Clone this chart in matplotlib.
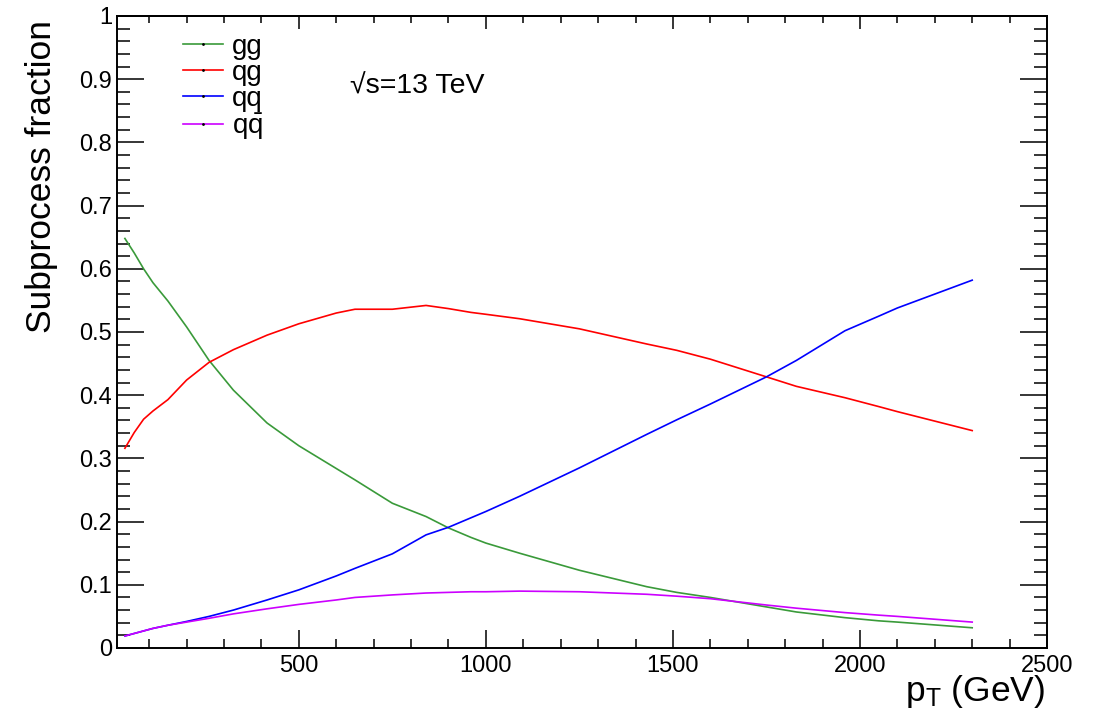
import matplotlib
matplotlib.use("Agg")
import matplotlib.pyplot as plt
from matplotlib.ticker import MultipleLocator, FuncFormatter
from matplotlib.lines import Line2D

plt.rcParams['font.family'] = ['Liberation Sans', 'DejaVu Sans']
plt.rcParams['mathtext.fontset'] = 'custom'
plt.rcParams['mathtext.rm'] = 'Liberation Sans'
plt.rcParams['mathtext.it'] = 'Liberation Sans:italic'

# pT grid (GeV) and subprocess fractions
pt = [35, 60, 85, 110, 150, 200, 260, 325, 415, 500, 600, 650, 750, 840, 900,
      960, 1000, 1090, 1250, 1430, 1510, 1600, 1750, 1830, 1960, 2050, 2100, 2300]
gg = [0.648, 0.625, 0.600, 0.578, 0.549, 0.508, 0.455, 0.408, 0.356, 0.320,
      0.284, 0.266, 0.229, 0.208, 0.190, 0.175, 0.166, 0.150, 0.123, 0.097,
      0.088, 0.080, 0.065, 0.057, 0.048, 0.043, 0.041, 0.032]
qg = [0.316, 0.341, 0.362, 0.375, 0.393, 0.424, 0.452, 0.472, 0.495, 0.513,
      0.530, 0.536, 0.536, 0.542, 0.537, 0.531, 0.528, 0.521, 0.505, 0.481,
      0.471, 0.457, 0.429, 0.414, 0.396, 0.382, 0.374, 0.344]
qq = [0.019, 0.023, 0.027, 0.031, 0.036, 0.042, 0.050, 0.060, 0.076, 0.092,
      0.114, 0.126, 0.149, 0.179, 0.191, 0.206, 0.216, 0.240, 0.285, 0.338,
      0.361, 0.386, 0.429, 0.455, 0.502, 0.525, 0.538, 0.582]
qqbar = [0.019, 0.023, 0.027, 0.031, 0.036, 0.041, 0.047, 0.054, 0.062, 0.069,
         0.076, 0.080, 0.084, 0.087, 0.088, 0.089, 0.089, 0.090, 0.089, 0.085,
         0.082, 0.078, 0.068, 0.063, 0.056, 0.052, 0.050, 0.041]

labels = ['gg', 'qg', 'qq', r'q$\bar{\mathrm{q}}$']
colors = ['#3a9a3a', '#ff0000', '#0000ff', '#cc00ff']

fig = plt.figure(figsize=(10.99, 7.2), dpi=100)
ax = fig.add_axes([0.1065, 0.1, 0.8462, 0.8778])

for ys, c in zip([gg, qg, qq, qqbar], colors):
    ax.plot(pt, ys, color=c, lw=1.2)

ax.set_xlim(14, 2500)
ax.set_ylim(0, 1)

ax.xaxis.set_major_locator(MultipleLocator(500))
ax.xaxis.set_minor_locator(MultipleLocator(100))
ax.yaxis.set_major_locator(MultipleLocator(0.1))
ax.yaxis.set_minor_locator(MultipleLocator(0.02))
ax.yaxis.set_major_formatter(FuncFormatter(lambda v, p: f'{v:g}'))

ax.tick_params(axis='y', which='both', direction='in', left=True, right=True,
               labelsize=17, pad=3.6, width=1.1)
ax.tick_params(axis='y', which='major', length=19.4)
ax.tick_params(axis='y', which='minor', length=9.7)
ax.tick_params(axis='x', which='both', direction='in', top=False, bottom=True,
               labelsize=17, pad=5, width=1.1)
ax.tick_params(axis='x', which='major', length=13)
ax.tick_params(axis='x', which='minor', length=6.5)

top = ax.secondary_xaxis('top')
top.xaxis.set_major_locator(MultipleLocator(500))
top.xaxis.set_minor_locator(MultipleLocator(100))
top.tick_params(axis='x', which='both', direction='in', labeltop=False, width=1.1)
top.tick_params(axis='x', which='major', length=9.4)
top.tick_params(axis='x', which='minor', length=4.7)

for s in ax.spines.values():
    s.set_linewidth(1.4)
top.spines['top'].set_linewidth(1.4)

handles = [Line2D([], [], color=c, lw=1.2, marker='.', markersize=2,
                  markerfacecolor='black', markeredgecolor='black') for c in colors]
ax.legend(handles, labels, loc='upper left', bbox_to_anchor=(0.071, 0.972),
          frameon=False, fontsize=20, handlelength=1.44, handletextpad=0.32,
          labelspacing=0.0, borderaxespad=0, borderpad=0)

ax.text(0.2505, 0.889, '√s=13 TeV', transform=ax.transAxes, fontsize=20.5,
        ha='left', va='center')

fig.text(1045 / 1099, 1 - 692 / 720, r'p$_\mathrm{T}$ (GeV)', fontsize=25.5,
         ha='right', va='center')
fig.text(42 / 1099, 1 - 20 / 720, 'Subprocess fraction', fontsize=25.5,
         rotation=90, ha='center', va='top')

fig.savefig('out.png', dpi=100)
